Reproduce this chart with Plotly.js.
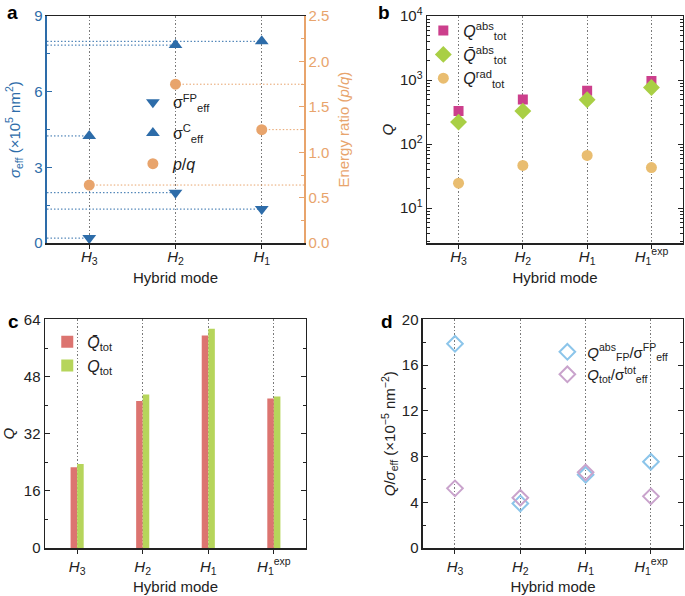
<!DOCTYPE html>
<html><head><meta charset="utf-8">
<script src="https://cdn.plot.ly/plotly-3.0.1.min.js"></script>
<style>html,body{margin:0;padding:0;background:#fff}#chart{width:685px;height:596px}</style>
</head><body><div id="chart"></div>
<script>
// ---- data ----
const modesA = ['<i>H</i><sub>3</sub>', '<i>H</i><sub>2</sub>', '<i>H</i><sub>1</sub>'];
const modesB = ['<i>H</i><sub>3</sub>', '<i>H</i><sub>2</sub>', '<i>H</i><sub>1</sub>', '<i>H</i><sub>1</sub><sup>exp</sup>'];
const sigmaFP = [0.2, 2.0, 1.35];
const sigmaC = [4.25, 7.85, 8.0];
const energyRatio = [0.64, 1.75, 1.25];
const qAbs = [330, 500, 680, 965];
const qBarAbs = [221, 328, 493, 767];
const qRad = [24.5, 46.5, 66.5, 43];
const qBarTot = [22.6, 41.2, 59.5, 41.9];
const qTot = [23.5, 43.0, 61.4, 42.4];
const qFPperSigma = [17.87, 3.9, 6.41, 7.55];
const qTotPerSigma = [5.22, 4.4, 6.62, 4.52];

// ---- styles ----
const FONT = 'Liberation Sans, Arial, sans-serif';
const BLUE = '#2d6ca9', ORANGE = '#e8a46c';
const MAG = '#cc3f8c', LGREEN = '#a9cf45', TAN = '#e9bd70';
const RED = '#dc7470', BGREEN = '#b6d55b';
const LBLUE = '#8cc5ea', PINK = '#c9a3cc';
const DARK = '#222';
const GRID = '#7a7a7a';
const DOT = '1.5px,2px';

const idxA = modesA.map((_, i) => i);
const idxB = modesB.map((_, i) => i);
const xA = [-0.49, 2.49];
const xB = [-0.49, 3.49];

const traces = [];
// Panel a guide lines
sigmaFP.forEach((v, i) => traces.push({x: [xA[0], i], y: [v, v], xaxis: 'x', yaxis: 'y', mode: 'lines', line: {color: BLUE, width: 1, dash: DOT}, showlegend: false, hoverinfo: 'skip'}));
sigmaC.forEach((v, i) => traces.push({x: [xA[0], i], y: [v, v], xaxis: 'x', yaxis: 'y', mode: 'lines', line: {color: BLUE, width: 1, dash: DOT}, showlegend: false, hoverinfo: 'skip'}));
energyRatio.forEach((v, i) => traces.push({x: [i, xA[1]], y: [v, v], xaxis: 'x', yaxis: 'y2', mode: 'lines', line: {color: ORANGE, width: 1, dash: DOT}, showlegend: false, hoverinfo: 'skip'}));
// Panel a markers
traces.push({x: idxA, y: sigmaFP, xaxis: 'x', yaxis: 'y', mode: 'markers', name: 'σ<sup>FP</sup><sub>eff</sub>', marker: {symbol: 'triangle-down', size: 12, color: BLUE}, legend: 'legend', legendgroup: 'a1'});
traces.push({x: idxA, y: sigmaC, xaxis: 'x', yaxis: 'y', mode: 'markers', name: 'σ<sup>C</sup><sub>eff</sub>', marker: {symbol: 'triangle-up', size: 12, color: BLUE}, legend: 'legend', legendgroup: 'a2'});
traces.push({x: idxA, y: energyRatio, xaxis: 'x', yaxis: 'y2', mode: 'markers', name: '<i>p</i>/<i>q</i>', marker: {symbol: 'circle', size: 11, color: ORANGE}, legend: 'legend', legendgroup: 'a3'});
// Panel b
traces.push({x: idxB, y: qAbs, xaxis: 'x2', yaxis: 'y3', mode: 'markers', name: '<i>Q</i><sup>abs</sup><sub>tot</sub>', marker: {symbol: 'square', size: 10, color: MAG}, legend: 'legend2'});
traces.push({x: idxB, y: qBarAbs, xaxis: 'x2', yaxis: 'y3', mode: 'markers', name: '<i>Q̄</i><sup>abs</sup><sub>tot</sub>', marker: {symbol: 'diamond', size: 13, color: LGREEN}, legend: 'legend2'});
traces.push({x: idxB, y: qRad, xaxis: 'x2', yaxis: 'y3', mode: 'markers', name: '<i>Q</i><sup>rad</sup><sub>tot</sub>', marker: {symbol: 'circle', size: 11, color: TAN}, legend: 'legend2'});
// Panel c
traces.push({type: 'bar', x: idxB, y: qBarTot, xaxis: 'x3', yaxis: 'y4', width: 0.1, offset: -0.1, name: '<i>Q̄</i><sub>tot</sub>', marker: {color: RED}, legend: 'legend3'});
traces.push({type: 'bar', x: idxB, y: qTot, xaxis: 'x3', yaxis: 'y4', width: 0.1, offset: 0, name: '<i>Q</i><sub>tot</sub>', marker: {color: BGREEN}, legend: 'legend3'});
// Panel d
traces.push({x: idxB, y: qFPperSigma, xaxis: 'x4', yaxis: 'y5', mode: 'markers', name: '<i>Q</i><sup>abs</sup><sub>FP</sub>/σ<sup>FP</sup><sub>eff</sub>', marker: {symbol: 'diamond-open', size: 12, color: LBLUE, line: {width: 2, color: LBLUE}}, legend: 'legend4'});
traces.push({x: idxB, y: qTotPerSigma, xaxis: 'x4', yaxis: 'y5', mode: 'markers', name: '<i>Q</i><sub>tot</sub>/σ<sup>tot</sup><sub>eff</sub>', marker: {symbol: 'diamond-open', size: 12, color: PINK, line: {width: 2, color: PINK}}, legend: 'legend4'});

function xax(domain, anchor, range, ticktext, lblOff) {
  return {
    domain, anchor, range, tickmode: 'array', tickvals: ticktext.map((_, i) => i), ticktext,
    showgrid: true, griddash: DOT, gridcolor: GRID, gridwidth: 1,
    showline: true, linecolor: DARK, linewidth: 1.5, mirror: true,
    ticks: 'outside', ticklen: 4, tickcolor: DARK, zeroline: false, automargin: false,
    ticklabelstandoff: lblOff,
    tickfont: {size: 15, color: DARK},
    title: {text: 'Hybrid mode', standoff: 6, font: {size: 15, color: DARK}}
  };
}
function yax(domain, anchor, extra) {
  return Object.assign({
    domain, anchor, showgrid: false, zeroline: false, automargin: false,
    showline: true, linecolor: DARK, linewidth: 1.5, mirror: 'ticks',
    ticks: 'inside', ticklen: 5, tickcolor: DARK,
    tickfont: {size: 15, color: DARK}
  }, extra);
}

const rowTop = [0.592, 0.973];
const rowBot = [0.0805, 0.4640];
const lbl = (t, x, y) => ({text: '<b>' + t + '</b>', x, y, xref: 'paper', yref: 'paper', xanchor: 'center', yanchor: 'top', showarrow: false, font: {size: 19, color: '#000'}});
const leg = (x, y, xanchor, extra) => Object.assign({x, y, xanchor, yanchor: 'top', bgcolor: 'rgba(0,0,0,0)', font: {size: 16, color: DARK}, itemwidth: 30}, extra || {});

const layout = {
  width: 685, height: 596,
  margin: {l: 0, r: 0, t: 0, b: 0, autoexpand: false},
  paper_bgcolor: '#fff', plot_bgcolor: '#fff',
  font: {family: FONT, size: 15, color: DARK},
  showlegend: true,
  xaxis: xax([0.0686, 0.4438], 'y', xA, modesA, -5),
  yaxis: yax(rowTop, 'x', {
    range: [0, 9], dtick: 3, tick0: 0, mirror: false, linecolor: BLUE, tickcolor: BLUE,
    tickfont: {size: 15, color: BLUE},
    minor: {dtick: 1.5, tick0: 0, ticks: 'inside', ticklen: 3, tickcolor: BLUE},
    title: {text: '<i>σ</i><sub>eff</sub> (×10<sup>5</sup> nm<sup>2</sup>)', standoff: 10, font: {size: 15, color: BLUE}}
  }),
  yaxis2: yax(rowTop, 'x', {
    overlaying: 'y', side: 'right', range: [0, 2.5], dtick: 0.5, tick0: 0, tickformat: '.1f',
    mirror: false, linecolor: ORANGE, tickcolor: ORANGE,
    tickfont: {size: 15, color: ORANGE},
    minor: {dtick: 0.25, tick0: 0, ticks: 'inside', ticklen: 3, tickcolor: ORANGE},
    title: {text: 'Energy ratio (<i>p</i>/<i>q</i>)', standoff: 10, font: {size: 15, color: ORANGE}}
  }),
  xaxis2: xax([0.6234, 0.997], 'y3', xB, modesB, -5),
  yaxis3: yax(rowTop, 'x2', {
    type: 'log', range: [0.453, 4], tickmode: 'array', tickvals: [10, 100, 1000, 10000],
    ticktext: ['10<sup>1</sup>', '10<sup>2</sup>', '10<sup>3</sup>', '10<sup>4</sup>'],
    minor: {dtick: 'D1', ticks: 'inside', ticklen: 3, tickcolor: DARK},
    title: {text: '<i>Q</i>', standoff: 2, font: {size: 15, color: DARK}}
  }),
  xaxis3: xax([0.0657, 0.4467], 'y4', xB, modesB, 0),
  yaxis4: yax(rowBot, 'x3', {
    range: [0, 64], dtick: 16, tick0: 0,
    minor: {dtick: 8, tick0: 0, ticks: 'inside', ticklen: 3, tickcolor: DARK},
    title: {text: '<i>Q</i>', standoff: 10, font: {size: 15, color: DARK}}
  }),
  xaxis4: xax([0.6175, 0.997], 'y5', xB, modesB, 0),
  yaxis5: yax(rowBot, 'x4', {
    range: [0, 20], dtick: 4, tick0: 0,
    minor: {dtick: 2, tick0: 0, ticks: 'inside', ticklen: 3, tickcolor: DARK},
    title: {text: '<i>Q</i>/<i>σ</i><sub>eff</sub> (×10<sup>−5</sup> nm<sup>−2</sup>)', standoff: 2, font: {size: 15, color: DARK}}
  }),
  legend: leg(0.194, 0.857, 'left', {tracegroupgap: 7}),
  legend2: leg(0.618, 0.977, 'left'),
  legend3: leg(0.069, 0.455, 'left'),
  legend4: leg(0.983, 0.437, 'right', {font: {size: 15, color: DARK}}),
  annotations: [
    lbl('a', 0.018, 1.0),
    lbl('b', 0.56, 1.0),
    lbl('c', 0.02, 0.482),
    lbl('d', 0.565, 0.482)
  ]
};

Plotly.newPlot('chart', traces, layout, {displayModeBar: false, staticPlot: true});
</script>
</body></html>
